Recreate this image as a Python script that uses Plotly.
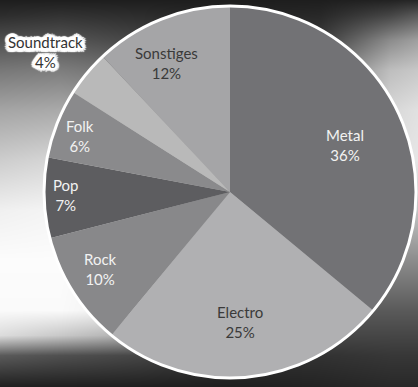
import math
import plotly.graph_objects as go

# Genre shares (percent)
genres = ["Metal", "Electro", "Rock", "Pop", "Folk", "Soundtrack", "Sonstiges"]
shares = [36, 25, 10, 7, 6, 4, 12]

slice_colors = ["#727275", "#b0b0b2", "#88888a", "#5d5d60", "#8a8a8c", "#b9b9b9", "#a5a5a7"]
label_colors = ["#f2f2f2", "#3a3a3a", "#f2f2f2", "#f2f2f2", "#f2f2f2", "#333333", "#3a3a3a"]
# label distance from centre (fraction of radius) and small pixel nudges (screen px, y down)
label_radius = [0.67, 0.70, 0.81, 0.89, 0.87, 1.24, 0.78]
label_nudge = [(2, 6), (-2, 0), (-2, -4), (1, -2), (0, 4), (-7, 7), (-10, 6)]

W, H = 418, 387

# Backdrop: soft grey lighting behind the chart
bg_x = [0, 60, 140, 230, 320, 390, 418]
bg_y = [0, 15, 40, 70, 110, 160, 210, 260, 310, 335, 355, 387]
bg_z = [
    [30, 30, 30, 30, 30, 35, 40],
    [45, 50, 45, 35, 40, 70, 90],
    [80, 85, 70, 50, 60, 140, 160],
    [120, 125, 110, 80, 110, 190, 200],
    [165, 170, 160, 120, 140, 215, 225],
    [205, 215, 200, 160, 160, 225, 230],
    [240, 245, 230, 160, 150, 190, 195],
    [252, 252, 240, 150, 120, 140, 140],
    [250, 250, 235, 120, 90, 90, 90],
    [220, 200, 170, 80, 70, 70, 70],
    [90, 80, 70, 50, 50, 55, 55],
    [30, 30, 30, 30, 35, 40, 40],
]

fig = go.Figure()

fig.add_trace(go.Heatmap(
    x=bg_x, y=bg_y, z=bg_z,
    zmin=0, zmax=255, zsmooth="best",
    colorscale=[[0, "black"], [1, "white"]],
    showscale=False, hoverinfo="skip",
))

# Pie geometry in pixels
cx, cy, r = 230, 192, 186
dom_x = [(cx - r) / W, (cx + r) / W]
dom_y = [1 - (cy + r) / H, 1 - (cy - r) / H]

fig.add_trace(go.Pie(
    labels=genres,
    values=shares,
    sort=False,
    direction="clockwise",
    rotation=0,
    marker=dict(colors=slice_colors, line=dict(width=0)),
    textinfo="none",
    showlegend=False,
    hoverinfo="label+percent",
    domain=dict(x=dom_x, y=dom_y),
))

# White rim around the pie
fig.add_shape(
    type="circle", xref="paper", yref="paper",
    x0=dom_x[0], x1=dom_x[1], y0=dom_y[0], y1=dom_y[1],
    line=dict(color="white", width=3), layer="above",
)

# White outline glow for the label sitting outside the pie
rings = []
for rad in (1, 2, 3, 4):
    for k in range(12):
        a = 2 * math.pi * k / 12
        rings.append(f"{rad * math.cos(a):.1f}px {rad * math.sin(a):.1f}px 1px white")
halo = ", ".join(rings)

# Data labels placed along each slice's mid-angle
total = sum(shares)
start = 0.0
for name, val, col, frac, (nx, ny) in zip(genres, shares, label_colors, label_radius, label_nudge):
    mid = (start + val / 2) / total * 2 * math.pi
    start += val
    px = cx + frac * r * math.sin(mid)
    py = cy - frac * r * math.cos(mid)
    font = dict(family="Lato, sans-serif", size=15, color=col)
    if frac > 1:
        font["shadow"] = halo
    fig.add_annotation(
        x=px / W, y=1 - py / H, xref="paper", yref="paper",
        text=f"{name}<br>{val}%", showarrow=False,
        xanchor="center", yanchor="middle",
        xshift=nx, yshift=-ny,
        font=font,
    )

fig.update_layout(
    width=W, height=H,
    margin=dict(l=0, r=0, t=0, b=0),
    paper_bgcolor="#444444",
    plot_bgcolor="#444444",
    xaxis=dict(range=[0, W], visible=False, fixedrange=True, domain=[0, 1]),
    yaxis=dict(range=[H, 0], visible=False, fixedrange=True, domain=[0, 1]),
)

fig.write_html("out.html")
